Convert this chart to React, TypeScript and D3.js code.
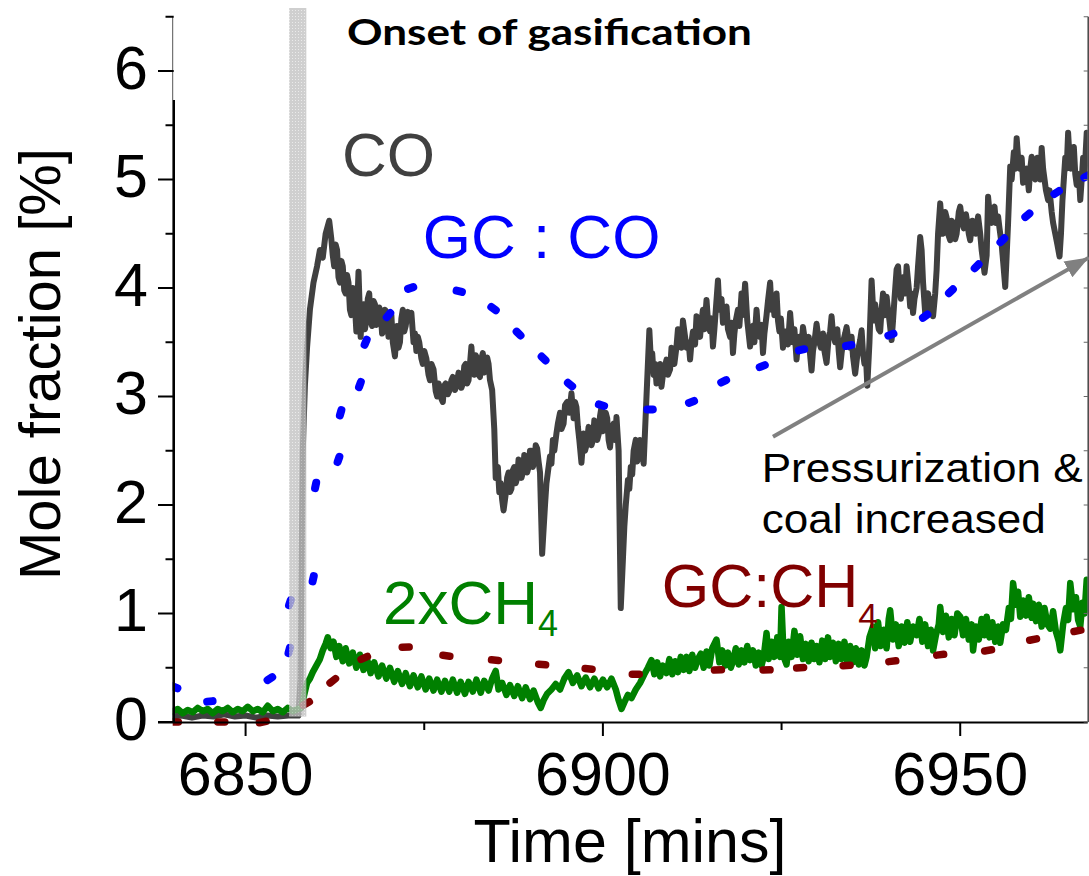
import React from 'react';
import * as d3 from 'd3';

type P = [number, number];

// CO online analyser (mole fraction %), time in mins
const coSeries: P[] = [
  [6839.8,0.05],[6841,0.06],[6842.5,0.04],[6844,0.06],[6845.5,0.05],[6847,0.07],[6848.5,0.05],[6850,0.06],[6851.5,0.04],[6853,0.06],[6854.5,0.05],[6856,0.06],[6857.4,0.06],
  [6857.7,0.4],[6857.85,1.5],[6858.0,2.5],[6858.3,3.1],[6858.6,3.45],[6859.0,3.8],[6859.5,4.05],[6860.0,4.2],[6860.4,4.35],[6860.8,4.28],[6861.2,4.5],[6861.7,4.62],[6862.0,4.45],[6862.2,4.3],[6862.4,4.2],[6862.6,4.4],[6862.8,4.35],[6863.0,4.1],[6863.2,4.05],[6863.4,4.25],[6863.6,4.2],[6863.8,3.98],[6864.0,3.95],[6864.2,4.12],[6864.4,4.05],[6864.6,3.8],[6864.8,3.75],[6865.0,4.0],[6865.2,3.95],[6865.5,3.6],[6865.8,4.15],[6866.1,3.55],[6866.3,3.8],[6866.5,3.85],[6866.7,3.62],[6866.9,3.7],[6867.1,3.9],[6867.3,3.95],[6867.5,3.7],[6867.7,3.65],[6867.9,3.88],[6868.1,3.85],[6868.3,3.66],[6868.5,3.7],[6868.7,3.82],[6868.9,3.78],[6869.1,3.58],[6869.3,3.6],[6869.5,3.8],[6869.7,3.78],[6870.0,3.55],[6870.2,3.7],[6870.4,3.75],[6870.6,3.5],[6870.9,3.37],[6871.2,3.65],[6871.4,3.45],[6871.6,3.5],[6871.8,3.72],[6872.0,3.8],[6872.2,3.6],[6872.4,3.65],[6872.7,3.78],[6872.9,3.75],[6873.2,3.77],[6873.5,3.5],[6873.7,3.58],[6873.9,3.42],[6874.1,3.55],[6874.3,3.5],[6874.6,3.35],[6874.8,3.3],[6875.0,3.42],[6875.3,3.35],[6875.6,3.2],[6875.8,3.15],[6876.0,3.3],[6876.3,3.25],[6876.6,3.05],[6876.8,3.0],[6877.0,3.12],[6877.2,3.08],[6877.4,2.98],[6877.6,2.95],[6877.8,3.1],[6878.0,3.12],[6878.3,3.02],[6878.5,3.05],[6878.8,3.15],[6879.0,3.18],[6879.3,3.06],[6879.5,3.1],[6879.8,3.22],[6880.0,3.2],[6880.2,3.08],[6880.4,3.12],[6880.6,3.28],[6880.8,3.3],[6881.0,3.12],[6881.2,3.15],[6881.4,3.3],[6881.6,3.46],[6881.8,3.25],[6882.0,3.2],[6882.2,3.38],[6882.4,3.35],[6882.6,3.2],[6882.8,3.18],[6883.0,3.35],[6883.2,3.4],[6883.4,3.22],[6883.6,3.25],[6883.8,3.36],[6884.0,3.3],[6884.2,3.15],[6884.5,3.06],[6884.8,2.7],[6885.0,2.25],[6885.3,2.35],[6885.5,2.12],[6885.7,2.2],[6885.9,2.05],[6886.1,1.95],[6886.4,2.1],[6886.6,2.25],[6886.8,2.3],[6887.0,2.12],[6887.2,2.15],[6887.4,2.32],[6887.6,2.35],[6887.8,2.2],[6888.0,2.25],[6888.2,2.42],[6888.4,2.4],[6888.6,2.25],[6888.8,2.3],[6889.0,2.46],[6889.2,2.45],[6889.4,2.3],[6889.6,2.35],[6889.8,2.5],[6890.0,2.5],[6890.2,2.35],[6890.4,2.4],[6890.6,2.55],[6890.8,2.52],[6891.0,2.4],[6891.2,2.3],[6891.5,1.55],[6891.9,2.0],[6892.1,2.2],[6892.3,2.3],[6892.6,2.45],[6892.8,2.38],[6893.0,2.6],[6893.2,2.5],[6893.5,2.66],[6893.7,2.75],[6894.0,2.85],[6894.2,2.7],[6894.5,2.75],[6894.7,2.92],[6895.0,2.95],[6895.3,2.85],[6895.6,3.03],[6895.9,2.8],[6896.1,2.95],[6896.3,2.9],[6896.5,2.72],[6896.7,2.6],[6897.0,2.39],[6897.3,2.66],[6897.5,2.5],[6897.7,2.55],[6898.0,2.72],[6898.2,2.7],[6898.4,2.55],[6898.6,2.6],[6898.8,2.78],[6899.0,2.75],[6899.2,2.6],[6899.4,2.65],[6899.6,2.82],[6899.8,2.9],[6900.0,2.68],[6900.2,2.7],[6900.4,2.85],[6900.6,2.8],[6900.8,2.6],[6901.0,2.53],[6901.2,2.7],[6901.5,2.75],[6901.7,2.6],[6901.9,2.81],[6902.2,2.5],[6902.5,1.05],[6902.8,1.5],[6903.0,1.8],[6903.2,2.0],[6903.5,2.23],[6903.7,2.15],[6903.9,2.35],[6904.1,2.28],[6904.3,2.5],[6904.6,2.6],[6904.8,2.4],[6905.0,2.45],[6905.2,2.6],[6905.4,2.55],[6905.7,2.38],[6906.1,3.0],[6906.5,3.61],[6906.7,3.35],[6906.9,3.4],[6907.1,3.2],[6907.3,3.3],[6907.5,3.12],[6907.7,3.15],[6908.0,3.3],[6908.2,3.09],[6908.4,3.2],[6908.6,3.25],[6908.9,3.34],[6909.1,3.2],[6909.4,3.25],[6909.6,3.45],[6909.8,3.4],[6910.0,3.3],[6910.3,3.46],
  [6910.5,3.62],[6910.8,3.6],[6911.0,3.45],[6911.2,3.7],[6911.5,3.55],[6911.7,3.45],[6912.0,3.5],[6912.2,3.34],[6912.4,3.5],[6912.6,3.6],[6912.9,3.48],[6913.1,3.74],[6913.3,3.6],[6913.6,3.55],[6913.8,3.7],[6914.0,3.8],[6914.2,3.62],[6914.5,3.89],[6914.7,3.7],[6915.0,3.6],[6915.2,3.72],[6915.4,3.46],[6915.6,3.62],[6915.8,3.8],[6916.1,4.07],[6916.3,3.8],[6916.6,3.9],[6916.8,3.68],[6917.0,3.7],[6917.3,3.83],[6917.5,3.62],[6917.8,3.55],[6918.0,3.68],[6918.2,3.4],[6918.4,3.58],[6918.6,3.7],[6918.9,3.8],[6919.1,3.65],[6919.4,3.95],[6919.6,3.75],[6919.9,4.04],[6920.2,3.7],[6920.4,3.58],[6920.6,3.46],[6920.8,3.62],[6921.0,3.65],[6921.2,3.5],[6921.5,3.8],[6921.7,3.62],[6922.0,3.55],[6922.2,3.66],[6922.4,3.4],[6922.6,3.58],[6922.9,3.75],[6923.1,3.88],[6923.4,4.05],[6923.6,3.8],[6923.8,3.9],[6924.0,3.75],[6924.3,3.95],[6924.5,3.7],[6924.7,3.6],[6924.9,3.72],[6925.2,3.45],[6925.4,3.6],[6925.7,3.6],[6925.9,3.48],[6926.2,3.77],[6926.4,3.6],[6926.6,3.5],[6926.8,3.62],[6927.1,3.34],[6927.3,3.5],[6927.5,3.55],[6927.8,3.48],[6928.0,3.64],[6928.3,3.5],[6928.5,3.45],[6928.8,3.55],[6929.0,3.38],[6929.2,3.24],[6929.4,3.42],[6929.6,3.5],[6929.9,3.67],[6930.2,3.52],[6930.5,3.45],[6930.8,3.58],[6931.0,3.42],[6931.3,3.31],[6931.6,3.55],[6931.8,3.6],[6932.0,3.74],[6932.2,3.58],[6932.5,3.5],[6932.8,3.62],[6933.0,3.42],[6933.2,3.27],[6933.4,3.4],[6933.6,3.5],[6933.9,3.58],[6934.1,3.64],[6934.4,3.5],[6934.6,3.45],[6934.8,3.55],[6935.0,3.37],[6935.3,3.21],[6935.6,3.38],[6935.8,3.45],[6936.0,3.52],[6936.2,3.61],[6936.4,3.4],[6936.6,3.3],[6936.8,3.38],[6937.0,3.1],[6937.3,3.5],[6937.6,4.07],[6937.9,3.7],[6938.1,3.85],[6938.3,3.74],[6938.6,3.62],[6938.8,3.6],[6939.0,3.8],[6939.2,3.95],[6939.5,3.75],[6939.7,3.92],[6939.9,3.8],[6940.1,3.7],[6940.4,3.52],[6940.6,3.7],[6940.8,3.9],[6941.1,4.17],[6941.3,4.2],[6941.5,4.0],[6941.7,3.9],[6941.9,4.05],[6942.1,4.1],[6942.3,3.95],[6942.5,4.2],[6942.8,4.0],[6943.0,3.83],[6943.2,3.95],[6943.4,3.77],[6943.6,3.9],[6943.9,4.0],[6944.1,4.2],[6944.4,4.47],[6944.6,4.35],[6944.8,4.05],[6945.1,3.77],[6945.3,3.9],[6945.5,3.95],[6945.8,3.8],[6946.0,3.9],[6946.2,3.74],[6946.5,3.95],[6946.7,4.17],[6946.9,4.5],[6947.2,4.78],[6947.4,4.6],[6947.6,4.5],[6947.9,4.7],[6948.1,4.65],[6948.3,4.5],[6948.6,4.44],[6948.8,4.62],[6949.0,4.6],[6949.3,4.45],[6949.5,4.5],[6949.8,4.7],[6950.0,4.75],[6950.3,4.6],[6950.5,4.55],[6950.8,4.68],[6951.0,4.6],[6951.2,4.5],[6951.4,4.44],[6951.7,4.62],[6952.0,4.6],[6952.2,4.5],[6952.5,4.66],[6952.8,4.5],[6953.0,4.35],[6953.2,4.25],[6953.4,4.14],[6953.7,4.3],[6953.9,4.84],[6954.1,4.7],[6954.4,4.6],[6954.6,4.72],[6954.8,4.75],[6955.0,4.6],[6955.3,4.66],[6955.5,4.55],[6955.8,4.4],[6956.0,4.25],[6956.3,4.01],[6956.5,4.3],[6956.7,4.6],[6957.0,5.12],[6957.2,5.0],[6957.5,5.25],[6957.7,5.1],[6957.9,5.38],[6958.1,5.2],[6958.3,5.1],[6958.6,5.2],[6958.8,4.97],[6959.0,5.05],[6959.3,5.1],[6959.6,4.9],[6959.8,5.1],[6960.0,5.21],[6960.2,5.05],[6960.5,5.0],[6960.8,5.2],[6961.0,5.15],[6961.2,5.0],[6961.4,5.29],[6961.6,5.1],[6961.8,5.0],[6962.0,4.9],[6962.3,4.81],[6962.5,4.9],[6962.8,4.7],[6963.0,4.6],[6963.3,4.5],[6963.6,4.4],[6963.9,4.29],[6964.1,4.5],[6964.3,4.8],[6964.5,5.0],[6964.7,5.2],[6964.9,5.1],[6965.1,5.43],[6965.3,5.2],[6965.5,5.1],[6965.7,5.25],[6965.9,5.3],[6966.1,5.05],[6966.3,4.95],[6966.6,5.05],[6966.8,4.81],[6967.0,5.0],[6967.2,5.2],[6967.4,5.05],[6967.7,5.43]
];

// 2 x CH4 online analyser
const ch4Series: P[] = [
  [6839.8,0.1],[6840.5,0.12],[6841.2,0.08],[6841.9,0.11],[6842.6,0.09],[6843.3,0.13],[6844.0,0.1],[6844.7,0.12],[6845.4,0.08],[6846.1,0.12],[6846.8,0.1],[6847.5,0.13],[6848.2,0.09],[6848.9,0.12],[6849.6,0.1],[6850.3,0.14],[6851.0,0.1],[6851.7,0.12],[6852.4,0.09],[6853.1,0.15],[6853.8,0.1],[6854.5,0.12],[6855.2,0.09],[6855.9,0.13],[6856.6,0.1],[6857.3,0.12],[6857.8,0.13],
  [6858.2,0.25],[6858.6,0.36],[6859.0,0.4],[6859.4,0.46],[6859.9,0.52],[6860.4,0.58],[6860.8,0.66],[6861.2,0.72],[6861.5,0.78],[6861.9,0.68],[6862.3,0.74],[6862.7,0.6],[6863.1,0.7],[6863.6,0.56],[6864.0,0.68],[6864.5,0.54],[6865.0,0.64],[6865.5,0.5],[6866.0,0.62],[6866.5,0.48],[6867.0,0.58],[6867.5,0.45],[6868.0,0.55],[6868.6,0.42],[6869.1,0.52],[6869.7,0.4],[6870.2,0.5],[6870.8,0.37],[6871.3,0.47],[6871.9,0.35],[6872.4,0.45],[6873.0,0.33],[6873.5,0.43],[6874.1,0.32],[6874.6,0.42],[6875.2,0.3],[6875.7,0.4],[6876.3,0.29],[6876.8,0.39],[6877.4,0.28],[6877.9,0.38],[6878.5,0.28],[6879.0,0.39],[6879.6,0.27],[6880.1,0.37],[6880.7,0.26],[6881.2,0.37],[6881.8,0.28],[6882.3,0.39],[6882.9,0.27],[6883.4,0.38],[6884.0,0.29],[6884.5,0.4],[6885.0,0.47],[6885.4,0.3],[6885.9,0.36],[6886.5,0.25],[6887.0,0.34],[6887.6,0.24],[6888.1,0.33],[6888.7,0.22],[6889.2,0.32],[6889.8,0.21],[6890.3,0.29],[6890.9,0.18],[6891.3,0.13],
  [6891.7,0.2],[6892.2,0.26],[6892.8,0.3],[6893.4,0.35],[6894.0,0.3],[6894.6,0.4],[6895.2,0.46],[6895.8,0.36],[6896.4,0.43],[6897.0,0.33],[6897.6,0.41],[6898.2,0.32],[6898.8,0.4],[6899.4,0.31],[6900.0,0.39],[6900.6,0.32],[6901.2,0.4],[6901.8,0.3],[6902.2,0.2],[6902.6,0.12],[6903.0,0.18],[6903.5,0.25],[6904.0,0.22],[6904.6,0.3],[6905.2,0.36],[6905.8,0.44],[6906.3,0.5],
  [6906.8,0.57],[6907.2,0.44],[6907.6,0.55],[6908.0,0.42],[6908.4,0.52],[6908.9,0.45],[6909.3,0.58],[6909.7,0.44],[6910.1,0.56],[6910.5,0.46],[6910.9,0.6],[6911.3,0.48],[6911.7,0.6],[6912.1,0.47],[6912.5,0.62],[6912.9,0.5],[6913.3,0.58],[6913.7,0.63],[6914.1,0.5],[6914.5,0.65],[6914.9,0.52],[6915.3,0.68],[6915.9,0.76],[6916.3,0.55],[6916.7,0.66],[6917.1,0.52],[6917.5,0.64],[6917.9,0.5],[6918.2,0.56],[6918.6,0.68],[6919.0,0.53],[6919.4,0.66],[6919.8,0.55],[6920.2,0.7],[6920.6,0.57],[6921.0,0.66],[6921.4,0.52],[6921.8,0.64],[6922.2,0.52],[6922.5,0.6],[6922.9,0.82],[6923.2,0.58],[6923.6,0.74],[6924.0,0.6],[6924.4,0.78],[6924.8,0.6],[6925.0,1.06],[6925.3,0.6],[6925.7,0.53],[6926.0,0.74],[6926.4,0.6],[6926.8,0.84],[6927.2,0.62],[6927.6,0.79],[6928.0,0.58],[6928.4,0.72],[6928.8,0.56],[6929.2,0.73],[6929.6,0.58],[6929.9,0.7],[6930.3,0.55],[6930.7,0.75],[6931.1,0.58],[6931.5,0.78],[6931.8,0.6],[6932.2,0.73],[6932.6,0.56],[6933.0,0.72],[6933.4,0.58],[6933.8,0.74],[6934.2,0.55],[6934.6,0.7],[6935.0,0.55],[6935.4,0.68],[6935.8,0.53],[6936.2,0.66],[6936.6,0.52],[6936.9,0.6],
  [6937.3,0.78],[6937.8,0.88],[6938.1,0.68],[6938.5,0.92],[6938.9,0.7],[6939.3,0.85],[6939.7,0.68],[6940.0,0.95],[6940.2,1.03],[6940.6,0.76],[6941.0,0.9],[6941.4,0.7],[6941.8,0.88],[6942.2,0.73],[6942.6,0.92],[6943.0,0.74],[6943.4,0.88],[6943.9,0.8],[6944.3,0.95],[6944.7,0.74],[6945.1,0.9],[6945.5,0.7],[6945.9,0.85],[6946.2,0.66],[6946.6,0.8],[6947.0,0.9],[6947.2,1.06],[6947.6,0.83],[6948.0,0.98],[6948.4,0.78],[6948.8,0.95],[6949.2,0.8],[6949.6,1.0],[6950.0,0.97],[6950.4,0.8],[6950.8,0.95],[6951.2,0.76],[6951.6,0.9],[6951.8,0.66],[6952.2,0.88],[6952.6,0.76],[6953.0,0.95],[6953.4,0.8],[6953.7,0.97],[6954.1,0.78],[6954.5,0.92],[6954.9,0.74],[6955.3,0.88],[6955.6,0.73],[6956.0,0.9],[6956.4,0.85],[6956.8,1.05],[6957.1,0.95],[6957.4,1.28],[6957.8,1.08],[6958.1,1.2],[6958.4,0.97],[6958.8,1.12],[6959.2,0.98],[6959.6,1.15],[6960.0,0.96],[6960.2,1.09],[6960.6,0.93],[6961.0,1.08],[6961.4,0.88],[6961.8,1.05],[6962.2,0.9],[6962.6,0.86],[6963.0,1.02],[6963.4,0.83],[6963.8,0.74],[6964.0,0.66],[6964.4,0.9],[6964.8,1.05],[6965.1,0.94],[6965.4,1.28],[6965.8,1.04],[6966.2,1.15],[6966.5,0.94],[6966.8,0.88],[6967.1,1.1],[6967.4,1.0],[6967.7,1.31]
];

// GC samples: CO
const gcCO: P[] = [
  [6840.1,0.32],[6845.0,0.19],[6853.4,0.4],[6856.1,0.66],[6856.2,1.1],[6859.46,1.32],[6859.8,2.18],[6863.0,2.42],[6863.3,2.85],[6866.0,3.11],[6866.8,3.5],[6870.0,3.75],[6873.1,4.0],[6879.9,3.97],[6884.7,3.81],[6888.2,3.58],[6891.7,3.35],[6895.4,3.11],[6899.8,2.92],[6906.6,2.88],[6912.4,2.95],[6916.9,3.14],[6922.3,3.28],[6927.8,3.43],[6934.4,3.47],[6940.3,3.57],[6945.1,3.74],[6948.7,3.97],[6952.3,4.2],[6955.9,4.44],[6959.4,4.67],[6963.5,4.88],[6967.7,5.03]
];

// GC samples: CH4
const gcCH4: P[] = [
  [6840.1,0.0],[6846.6,0.0],[6852.4,0.0],[6858.5,0.17],[6862.2,0.38],[6866.6,0.59],[6872.4,0.69],[6878.1,0.61],[6884.9,0.57],[6891.5,0.53],[6898.0,0.49],[6904.6,0.44],[6916.1,0.48],[6922.9,0.48],[6927.6,0.5],[6934.1,0.52],[6940.5,0.56],[6947.2,0.62],[6953.9,0.66],[6960.2,0.76],[6966.4,0.84]
];

const xMajorTicks = [6850, 6900, 6950];
const xMinorTicks = [6875, 6925];
const yMajorTicks = [0, 1, 2, 3, 4, 5, 6];
const yMinorTicks = [0.5, 1.5, 2.5, 3.5, 4.5, 5.5, 6.5];
const onsetWindow: [number, number] = [6856.1, 6858.5];
const arrowFrom: P = [6923.8, 2.63];
const arrowTo: P = [6968.0, 4.28];

const FONT = "'Liberation Sans', Arial, Helvetica, sans-serif";

export default function App() {
  const W = 1089, H = 876;
  const x = d3.scaleLinear().domain([6839.8, 6967.7]).range([172.7, 1086.7]);
  const y = d3.scaleLinear().domain([0, 6.5]).range([722, 16.75]);
  const line = d3.line<P>().x(d => x(d[0])).y(d => y(d[1]));

  const capsules = (pts: P[], len: number) =>
    pts.map((p, i) => {
      const px = x(p[0]), py = y(p[1]);
      const a = pts[Math.max(0, i - 1)], b = pts[Math.min(pts.length - 1, i + 1)];
      let dx = x(b[0]) - x(a[0]), dy = y(b[1]) - y(a[1]);
      const n = Math.hypot(dx, dy) || 1;
      dx /= n; dy /= n;
      return `M${px - dx * len / 2},${py - dy * len / 2}L${px + dx * len / 2},${py + dy * len / 2}`;
    });

  const x0 = x.range()[0], x1 = x.range()[1];
  const yBottom = y(0);

  return (
    <svg width={W} height={H} style={{ position: 'absolute', left: 0, top: 0, background: '#fff' }} fontFamily={FONT}>
      <defs>
        <pattern id="barDots" width="3" height="3" patternUnits="userSpaceOnUse">
          <rect width="3" height="3" fill="#c2c2c2" />
          <rect x="1" y="1" width="1" height="1" fill="#e4e4e4" />
        </pattern>
        <marker id="arrowHead" markerUnits="userSpaceOnUse" markerWidth="26" markerHeight="20" refX="24" refY="10" orient="auto">
          <path d="M0,1 L24,10 L0,19 Z" fill="#808080" />
        </marker>
        <clipPath id="plotClip">
          <rect x={x0} y={0} width={x1 - x0 + 1} height={yBottom + 6} />
        </clipPath>
      </defs>

      {/* data */}
      <g clipPath="url(#plotClip)">
        <path d={line(coSeries) || ''} fill="none" stroke="#404040" strokeWidth={6} strokeLinejoin="round" strokeLinecap="round" />
        <path d={line(ch4Series) || ''} fill="none" stroke="#008000" strokeWidth={6.5} strokeLinejoin="round" strokeLinecap="round" />
        {capsules(gcCH4, 7).map((d, i) => (
          <path key={'m' + i} d={d} stroke="#800000" strokeWidth={7.5} strokeLinecap="round" fill="none" />
        ))}
        {capsules(gcCO, 5.5).map((d, i) => (
          <path key={'b' + i} d={d} stroke="#0000ff" strokeWidth={8} strokeLinecap="round" fill="none" />
        ))}
      </g>

      {/* onset bar */}
      <rect x={x(onsetWindow[0])} y={8} width={x(onsetWindow[1]) - x(onsetWindow[0])} height={y(0.05) - 8} fill="url(#barDots)" opacity={0.78} />

      {/* axes */}
      <line x1={x0} x2={x0} y1={y(6.5)} y2={100} stroke="#555" strokeWidth={1} />
      <line x1={x0 + 1} x2={x0 + 1} y1={100} y2={yBottom + 1} stroke="#000" strokeWidth={2.6} />
      <line x1={158} x2={x1 + 1} y1={yBottom + 0.5} y2={yBottom + 0.5} stroke="#000" strokeWidth={2} />
      <line x1={x1 + 1.5} x2={x1 + 1.5} y1={y(6.5)} y2={yBottom} stroke="#444" strokeWidth={1.5} />
      {yMajorTicks.map(v => (
        <line key={'ym' + v} x1={158} x2={x0 + 1} y1={y(v)} y2={y(v)} stroke="#000" strokeWidth={2} />
      ))}
      {yMinorTicks.map(v => (
        <line key={'yn' + v} x1={165.5} x2={x0 + 1} y1={y(v)} y2={y(v)} stroke="#000" strokeWidth={2} />
      ))}
      {[...yMajorTicks, ...yMinorTicks].map(v => (
        <line key={'yr' + v} x1={x1 - 3} x2={x1 + 1.5} y1={y(v)} y2={y(v)} stroke="#666" strokeWidth={1} />
      ))}
      {xMajorTicks.map(t => (
        <line key={'xm' + t} x1={x(t)} x2={x(t)} y1={yBottom} y2={yBottom + 14} stroke="#000" strokeWidth={2} />
      ))}
      {xMinorTicks.map(t => (
        <line key={'xn' + t} x1={x(t)} x2={x(t)} y1={yBottom} y2={yBottom + 8} stroke="#000" strokeWidth={2} />
      ))}

      {/* tick labels */}
      {yMajorTicks.map(v => (
        <text key={'yl' + v} x={148} y={y(v) + 17.5} fontSize={61} textAnchor="end" fill="#000">{v}</text>
      ))}
      {xMajorTicks.map(t => (
        <text key={'xl' + t} x={x(t)} y={795} fontSize={61} textAnchor="middle" fill="#000">{t}</text>
      ))}

      {/* axis titles */}
      <text x={630} y={862} fontSize={61} textAnchor="middle" fill="#000">Time [mins]</text>
      <text transform="translate(60,364) rotate(-90)" fontSize={58} textAnchor="middle" fill="#000">Mole fraction [%]</text>

      {/* annotations */}
      <text x={347} y={45} fontSize={37} fontWeight={700} fontFamily="Lato, 'Open Sans', sans-serif" textLength={405} lengthAdjust="spacingAndGlyphs" fill="#000">Onset of gasification</text>
      <text x={342} y={176} fontSize={62} fill="#404040">CO</text>
      <text x={422.7} y={258} fontSize={62} fill="#0000ff">GC : CO</text>
      <text x={383} y={624} fontSize={62} fill="#008000">2xCH<tspan fontSize={36} dy={12}>4</tspan></text>
      <text x={661.7} y={606.7} fontSize={61} fill="#800000">GC:CH<tspan fontSize={35} dy={21}>4</tspan></text>

      <line x1={x(arrowFrom[0])} y1={y(arrowFrom[1])} x2={x(arrowTo[0])} y2={y(arrowTo[1])} stroke="#808080" strokeWidth={4} markerEnd="url(#arrowHead)" />
      <text x={761.7} y={481.7} fontSize={40} textLength={321} lengthAdjust="spacingAndGlyphs" fill="#000">Pressurization &amp;</text>
      <text x={761.7} y={533.3} fontSize={40} textLength={284} lengthAdjust="spacingAndGlyphs" fill="#000">coal increased</text>
    </svg>
  );
}
